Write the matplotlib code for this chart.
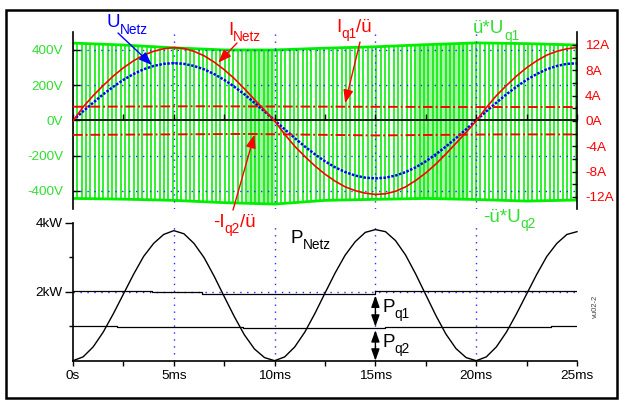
import numpy as np
import matplotlib
matplotlib.use('Agg')
import matplotlib.pyplot as plt
from matplotlib.patches import Rectangle

plt.rcParams['font.family'] = ['Liberation Sans', 'DejaVu Sans']
plt.rcParams['axes.unicode_minus'] = False

W, H = 623, 401

# ---------------- data ----------------
t_ms = np.arange(0, 25.001, 0.5)
u_netz = [0, 51, 100, 148, 191, 230, 263, 290, 309, 321, 325,
          321, 309, 290, 263, 230, 191, 148, 100, 51, 0,
          -51, -101, -149, -193, -233, -267, -294, -314, -326, -330,
          -326, -314, -294, -267, -233, -193, -149, -101, -51, 0,
          51, 100, 148, 191, 230, 263, 290, 309, 321, 324]
i_netz = [0, 2.2, 4.0, 5.6, 7.1, 8.4, 9.5, 10.4, 11.0, 11.4, 11.6,
          11.45, 11.0, 10.3, 9.3, 8.1, 6.7, 5.1, 3.4, 1.7, 0,
          -2.1, -4.0, -5.6, -7.1, -8.4, -9.5, -10.4, -11.0, -11.4, -11.6,
          -11.5, -11.1, -10.4, -9.4, -8.2, -6.8, -5.2, -3.5, -1.8, 0,
          2.1, 4.0, 5.6, 7.1, 8.4, 9.5, 10.4, 11.0, 11.4, 11.6]
p_netz = [0, 0.11, 0.40, 0.83, 1.36, 1.93, 2.50, 3.02, 3.40, 3.66, 3.77,
          3.68, 3.40, 2.99, 2.45, 1.86, 1.28, 0.75, 0.34, 0.09, 0,
          0.11, 0.40, 0.83, 1.37, 1.96, 2.54, 3.06, 3.45, 3.72, 3.80,
          3.74, 3.48, 3.06, 2.51, 1.91, 1.31, 0.77, 0.35, 0.09, 0,
          0.11, 0.40, 0.83, 1.36, 1.93, 2.50, 3.02, 3.40, 3.66, 3.74]

env_t = [0, 2.5, 5, 7.5, 10, 12.5, 15, 17.5, 20, 22.5, 25]
env_top = [439, 428, 412, 400, 400, 410, 418, 430, 440, 436, 428]
env_bot = [-444, -448, -455, -468, -476, -455, -449, -444, -450, -459, -453]
t_sw = 0.215
light_zones = [(8.6, 10.0), (16.9, 19.6)]

iq1_t = [0, 6.3, 19.3, 25]
iq1 = [2.25, 2.32, 2.2, 2.2]
iq2_t = [0, 8.6, 15.0, 21.2, 25]
iq2 = [-2.2, -2.05, -2.28, -2.12, -2.12]

pq1_t = [0, 3.9, 6.4, 15.0, 25]
pq1 = [2.03, 1.98, 1.93, 2.01, 2.01]
pq2_t = [0, 2.2, 8.45, 15.5, 23.7, 25]
pq2 = [1.01, 0.985, 0.955, 0.985, 1.005, 1.005]
pq_arrow_t = 15.0

x_ticks = [0, 5, 10, 15, 20, 25]
x_labels = ['0s', '5ms', '10ms', '15ms', '20ms', '25ms']
v_ticks = [400, 200, 0, -200, -400]
v_labels = ['400V', '200V', '0V', '-200V', '-400V']
a_ticks = [12, 8, 4, 0, -4, -8, -12]
a_labels = ['12A', '8A', '4A', '0A', '-4A', '-8A', '-12A']
p_ticks = [2, 4]
p_labels = ['2kW', '4kW']

# ---------------- styles ----------------
GREEN = '#00ee00'
GREEN_L = '#a6f3a6'
GREEN_T = '#33dd33'
RED = '#ff0000'
BLUE = '#0000ff'
GRID = '#2a2aff'
GRID_LS = (0, (1, 4))
TICK_FS = 9.7

fig = plt.figure(figsize=(W / 100, H / 100), dpi=100)


def box(x0, y0, x1, y1):
    return [x0 / W, 1 - y1 / H, (x1 - x0) / W, (y1 - y0) / H]


ax = fig.add_axes(box(73, 32, 577, 209))
ax2 = ax.twinx()
axp = fig.add_axes(box(73, 222.7, 577, 360.7))

# ---------------- top panel ----------------
ax.set_xlim(0, 25)
ax.set_ylim(-504, 502)
ax2.set_ylim(-13.9, 14.05)

for a0, a1 in light_zones:
    tz = np.linspace(a0, a1, 30)
    ax.fill_between(tz, np.interp(tz, env_t, env_bot), np.interp(tz, env_t, env_top),
                    color=GREEN_L, lw=0, zorder=0.5)
sw = np.arange(0, 25 + 1e-9, t_sw)
ax.vlines(sw, np.interp(sw, env_t, env_bot), np.interp(sw, env_t, env_top),
          colors=GREEN, lw=1.15, zorder=1)
ax.plot(env_t, env_top, color=GREEN, lw=2.0, zorder=1)
ax.plot(env_t, env_bot, color=GREEN, lw=2.0, zorder=1)

for v in v_ticks:
    if v != 0:
        ax.axhline(v, color=GRID, lw=1, ls=GRID_LS, zorder=1.5)
for xv in x_ticks[1:-1]:
    ax.axvline(xv, color=GRID, lw=1, ls=GRID_LS, zorder=1.5)

ax.plot(t_ms, u_netz, color=BLUE, lw=1.8, ls=(0, (1, 0.6)), zorder=2)

ax2.plot(iq1_t, iq1, color=RED, lw=1.4, ls=(0, (5, 1.5, 1, 1.5)))
ax2.plot(iq2_t, iq2, color=RED, lw=1.4, ls=(0, (5, 1.5, 1, 1.5)))
ax2.plot(t_ms, i_netz, color=RED, lw=1.2)

ax.spines['top'].set_visible(False)
ax.spines['right'].set_visible(False)
ax.spines['bottom'].set_position(('data', 0))
ax.spines['bottom'].set_linewidth(1.3)
ax.spines['left'].set_linewidth(1.2)
for s in ['top', 'bottom', 'left']:
    ax2.spines[s].set_visible(False)
ax2.spines['right'].set_linewidth(1.2)

ax.set_xticks(x_ticks)
ax.set_xticks(np.arange(0, 25.01, 2.5), minor=True)
ax.tick_params(axis='x', which='both', direction='in', length=4, width=1,
               labelbottom=False)
ax.set_yticks(v_ticks)
ax.set_yticklabels(v_labels)
ax.tick_params(axis='y', direction='in', length=5, width=1, pad=7.2,
               labelsize=TICK_FS, labelcolor=GREEN_T)
ax2.set_yticks(a_ticks)
ax2.set_yticklabels(a_labels)
ax2.set_yticks(np.arange(-12, 12.01, 2), minor=True)
ax2.tick_params(axis='y', which='both', direction='in', length=3.6, width=1, pad=5.8,
                labelsize=TICK_FS, labelcolor=RED)

# ---------------- bottom panel ----------------
axp.set_xlim(0, 25)
axp.set_ylim(0, 4)
for xv in x_ticks[1:-1]:
    axp.axvline(xv, color=GRID, lw=1, ls=GRID_LS, zorder=1)
for yv in p_ticks[:-1]:
    axp.axhline(yv, color=GRID, lw=1, ls=GRID_LS, zorder=1)
axp.plot(pq1_t, pq1, drawstyle='steps-post', color='k', lw=0.9)
axp.plot(pq2_t, pq2, drawstyle='steps-post', color='k', lw=0.9)
axp.plot(t_ms, p_netz, color='k', lw=1.0, clip_on=False)

axp.spines['top'].set_visible(False)
axp.spines['right'].set_visible(False)
axp.spines['left'].set_linewidth(1.2)
axp.spines['bottom'].set_linewidth(1.2)
axp.set_xticks(x_ticks)
axp.set_xticklabels(x_labels)
axp.set_xticks(np.arange(0, 25.01, 2.5), minor=True)
axp.tick_params(axis='x', which='both', direction='out', length=3.5, width=1, pad=3,
                labelsize=TICK_FS)
axp.set_yticks(p_ticks)
axp.set_yticklabels(p_labels)
axp.set_yticks([1, 3], minor=True)
axp.tick_params(axis='y', which='major', direction='out', length=5.5, width=1, pad=2,
                labelsize=TICK_FS)
axp.tick_params(axis='y', which='minor', direction='out', length=3, width=1)


def step_at(t, ts, vs):
    return vs[int(np.searchsorted(ts, t, side='right')) - 1]


hp = dict(color='k', lw=1, shrinkA=0, shrinkB=1, mutation_scale=10,
          arrowstyle='<|-|>,head_length=0.7,head_width=0.25')
p_up = step_at(pq_arrow_t - 0.01, pq1_t, pq1)
p_lo = step_at(pq_arrow_t, pq2_t, pq2)
axp.annotate('', xy=(pq_arrow_t, p_up), xytext=(pq_arrow_t, p_lo + 0.03), arrowprops=hp)
axp.annotate('', xy=(pq_arrow_t, p_lo - 0.03), xytext=(pq_arrow_t, 0.0), arrowprops=hp)

# ---------------- arrows in the top panel ----------------
def arrow(tip, trans, tail, color):
    ax2.annotate('', xy=tip, xycoords=trans, xytext=(tail[0], H - tail[1]),
                 textcoords='figure pixels', annotation_clip=False,
                 arrowprops=dict(arrowstyle='-|>,head_length=0.8,head_width=0.3',
                                 color=color, lw=1, shrinkA=0, shrinkB=0,
                                 mutation_scale=10))


arrow((3.92, 314), ax.transData, (118, 33), BLUE)
arrow((7.2, 9.2), ax2.transData, (237, 43), RED)
arrow((13.5, 2.8), ax2.transData, (360, 42), RED)
arrow((9.0, -2.15), ax2.transData, (233, 210), RED)

# ---------------- labels with subscripts ----------------
renderer = fig.canvas.get_renderer()


def label(x, y_img, parts, color, size=13.5, sub_size=9.8, drop=6.5):
    cx = x
    y = H - y_img
    for s, sub in parts:
        yy = y - drop if sub else y
        t = fig.text(cx / W, yy / H, s, fontsize=sub_size if sub else size,
                     color=color, ha='left', va='baseline')
        cx += t.get_window_extent(renderer).width


label(106, 26.7, [('U', False), ('Netz', True)], BLUE, drop=7)
label(228, 35, [('I', False), ('Netz', True)], RED, drop=6)
label(336, 31.7, [('I', False), ('q1', True), ('/ü', False)], RED)
label(473, 33.3, [('ü*U', False), ('q1', True)], GREEN_T)
label(213, 226.7, [('-I', False), ('q2', True), ('/ü', False)], RED)
label(483, 221.7, [('-ü*U', False), ('q2', True)], GREEN_T)
label(290, 242.7, [('P', False), ('Netz', True)], 'k')
label(382, 311.7, [('P', False), ('q1', True)], 'k')
label(382, 346.7, [('P', False), ('q2', True)], 'k')
fig.text(595 / W, 1 - 306 / H, 'vu02-2', rotation=90, fontsize=5.5, color='#444444',
         ha='center', va='center')

fig.patches.append(Rectangle((6 / W, 1 - 398 / H), (617 - 6) / W, (398 - 10) / H,
                             transform=fig.transFigure, fill=False, lw=1.8, ec='k'))

fig.savefig('out.png', dpi=100)
